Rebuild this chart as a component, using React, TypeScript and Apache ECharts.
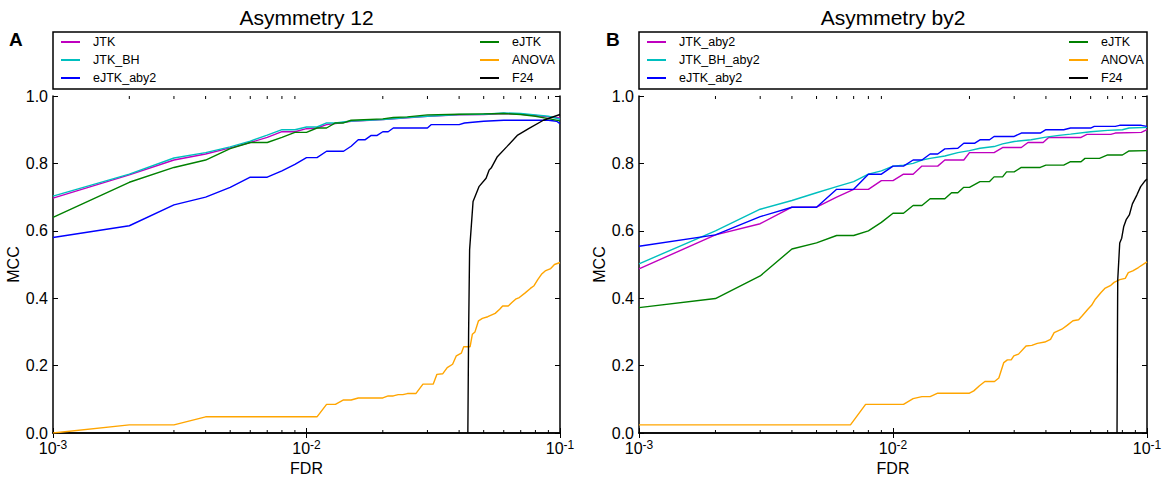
import React, { useEffect, useRef } from "react";
import * as echarts from "echarts";

const FONT = "'Liberation Sans', Arial, Helvetica, sans-serif";

// ---- Panel A: Asymmetry 12 ----
const A_JTK: number[][] = [[0.001,0.697],[0.002,0.766],[0.003,0.81],[0.004,0.828],[0.005,0.846],[0.006,0.862],[0.007,0.877],[0.008,0.894],[0.009,0.894],[0.01,0.903],[0.011,0.905],[0.012,0.915],[0.013,0.918],[0.015,0.925],[0.02,0.93],[0.022,0.932],[0.025,0.935],[0.03,0.94],[0.04,0.944],[0.05,0.945],[0.06,0.948],[0.07,0.946],[0.08,0.942],[0.09,0.938],[0.1,0.935]];
const A_JTK_BH: number[][] = [[0.001,0.703],[0.002,0.768],[0.003,0.816],[0.004,0.832],[0.005,0.849],[0.006,0.866],[0.007,0.884],[0.008,0.9],[0.009,0.9],[0.01,0.908],[0.011,0.908],[0.012,0.92],[0.013,0.92],[0.015,0.926],[0.02,0.93],[0.025,0.936],[0.03,0.94],[0.04,0.945],[0.05,0.946],[0.06,0.95],[0.07,0.948],[0.08,0.944],[0.09,0.94],[0.1,0.931]];
const A_eJTK: number[][] = [[0.001,0.64],[0.002,0.744],[0.003,0.788],[0.004,0.81],[0.005,0.844],[0.006,0.862],[0.007,0.862],[0.008,0.877],[0.009,0.892],[0.01,0.892],[0.011,0.905],[0.012,0.905],[0.013,0.92],[0.014,0.92],[0.015,0.928],[0.02,0.932],[0.022,0.936],[0.025,0.938],[0.03,0.944],[0.04,0.946],[0.05,0.947],[0.06,0.948],[0.07,0.945],[0.08,0.94],[0.09,0.933],[0.1,0.926]];
const A_eJTK_aby2: number[][] = [[0.001,0.58],[0.002,0.615],[0.003,0.677],[0.004,0.7],[0.005,0.729],[0.006,0.759],[0.007,0.759],[0.008,0.778],[0.009,0.797],[0.01,0.817],[0.011,0.817],[0.012,0.836],[0.013,0.836],[0.014,0.836],[0.015,0.851],[0.016,0.87],[0.017,0.87],[0.018,0.883],[0.019,0.883],[0.02,0.894],[0.021,0.894],[0.022,0.905],[0.03,0.905],[0.031,0.915],[0.04,0.915],[0.042,0.92],[0.05,0.925],[0.06,0.928],[0.09,0.928],[0.097,0.925],[0.1,0.918]];
const A_ANOVA: number[][] = [[0.001,0],[0.002,0.024],[0.003,0.024],[0.004,0.048],[0.011,0.048],[0.012,0.085],[0.013,0.085],[0.014,0.098],[0.015,0.098],[0.016,0.104],[0.02,0.104],[0.021,0.11],[0.022,0.11],[0.023,0.114],[0.024,0.114],[0.025,0.117],[0.027,0.117],[0.0288,0.145],[0.0316,0.145],[0.0327,0.174],[0.0345,0.176],[0.0359,0.194],[0.0377,0.204],[0.039,0.229],[0.0408,0.237],[0.0417,0.256],[0.0442,0.256],[0.0451,0.293],[0.0462,0.3],[0.0477,0.333],[0.0494,0.34],[0.0519,0.345],[0.0555,0.355],[0.0578,0.367],[0.0594,0.377],[0.0625,0.377],[0.0646,0.387],[0.0668,0.397],[0.0691,0.402],[0.0727,0.415],[0.0764,0.429],[0.079,0.437],[0.0817,0.455],[0.0845,0.471],[0.0874,0.481],[0.0919,0.488],[0.0951,0.5],[0.1,0.506]];
const A_F24: number[][] = [[0.0433,0],[0.0436,0.3],[0.044,0.544],[0.0454,0.687],[0.0479,0.731],[0.0511,0.756],[0.0525,0.78],[0.0537,0.788],[0.0566,0.82],[0.0616,0.849],[0.0681,0.884],[0.0752,0.903],[0.086,0.928],[0.1,0.945]];

// ---- Panel B: Asymmetry by2 ----
const B_JTK_aby2: number[][] = [[0.001,0.487],[0.002,0.588],[0.003,0.621],[0.004,0.67],[0.005,0.67],[0.006,0.7],[0.007,0.723],[0.008,0.723],[0.009,0.749],[0.01,0.749],[0.011,0.768],[0.012,0.768],[0.013,0.792],[0.015,0.792],[0.016,0.81],[0.019,0.81],[0.02,0.832],[0.025,0.832],[0.027,0.847],[0.032,0.847],[0.034,0.862],[0.039,0.862],[0.041,0.877],[0.055,0.877],[0.058,0.886],[0.072,0.886],[0.075,0.89],[0.095,0.892],[0.1,0.9]];
const B_JTK_BH_aby2: number[][] = [[0.001,0.502],[0.002,0.6],[0.003,0.664],[0.004,0.69],[0.005,0.713],[0.006,0.731],[0.007,0.746],[0.008,0.768],[0.009,0.778],[0.01,0.792],[0.011,0.795],[0.012,0.8],[0.013,0.81],[0.014,0.815],[0.016,0.822],[0.018,0.832],[0.02,0.838],[0.022,0.845],[0.025,0.85],[0.027,0.858],[0.03,0.865],[0.035,0.87],[0.04,0.878],[0.045,0.883],[0.05,0.887],[0.06,0.894],[0.07,0.898],[0.08,0.9],[0.085,0.905],[0.1,0.907]];
const B_eJTK_aby2: number[][] = [[0.001,0.554],[0.002,0.588],[0.003,0.642],[0.004,0.67],[0.005,0.67],[0.006,0.723],[0.007,0.723],[0.008,0.768],[0.009,0.768],[0.01,0.792],[0.011,0.792],[0.012,0.81],[0.013,0.81],[0.014,0.828],[0.015,0.828],[0.016,0.843],[0.018,0.845],[0.019,0.86],[0.021,0.86],[0.022,0.87],[0.024,0.87],[0.025,0.88],[0.03,0.88],[0.032,0.89],[0.038,0.89],[0.04,0.9],[0.047,0.9],[0.05,0.905],[0.06,0.905],[0.062,0.91],[0.075,0.91],[0.078,0.913],[0.095,0.913],[0.1,0.91]];
const B_eJTK: number[][] = [[0.001,0.372],[0.002,0.399],[0.003,0.466],[0.004,0.546],[0.005,0.564],[0.006,0.586],[0.007,0.586],[0.008,0.6],[0.009,0.625],[0.01,0.652],[0.011,0.652],[0.012,0.675],[0.013,0.675],[0.014,0.695],[0.016,0.695],[0.017,0.713],[0.018,0.713],[0.019,0.729],[0.02,0.729],[0.022,0.746],[0.024,0.746],[0.025,0.76],[0.027,0.76],[0.028,0.775],[0.03,0.775],[0.032,0.788],[0.038,0.788],[0.04,0.795],[0.047,0.795],[0.05,0.805],[0.055,0.805],[0.057,0.815],[0.065,0.815],[0.07,0.825],[0.08,0.825],[0.085,0.837],[0.1,0.838]];
const B_ANOVA: number[][] = [[0.001,0.024],[0.0068,0.024],[0.0078,0.085],[0.011,0.085],[0.012,0.102],[0.013,0.108],[0.014,0.108],[0.015,0.118],[0.02,0.118],[0.0208,0.125],[0.0219,0.14],[0.023,0.153],[0.0251,0.153],[0.0261,0.163],[0.0273,0.209],[0.0282,0.217],[0.0292,0.217],[0.0299,0.229],[0.0312,0.234],[0.0334,0.258],[0.0352,0.26],[0.037,0.266],[0.0396,0.27],[0.0417,0.278],[0.0431,0.298],[0.0462,0.308],[0.0486,0.32],[0.0511,0.333],[0.0538,0.336],[0.0556,0.348],[0.0585,0.367],[0.0605,0.379],[0.0626,0.397],[0.0659,0.417],[0.0682,0.429],[0.0717,0.437],[0.0742,0.447],[0.0781,0.455],[0.0821,0.459],[0.0844,0.476],[0.0879,0.481],[0.0925,0.491],[0.1,0.508]];
const B_F24: number[][] = [[0.0762,0],[0.0765,0.3],[0.0767,0.455],[0.0781,0.564],[0.0795,0.578],[0.081,0.613],[0.0828,0.633],[0.0852,0.647],[0.0876,0.68],[0.0912,0.706],[0.0944,0.731],[0.0977,0.746],[0.1,0.754]];

const MINOR_TICKS = [0.002,0.003,0.004,0.005,0.006,0.007,0.008,0.009,0.02,0.03,0.04,0.05,0.06,0.07,0.08,0.09];
const TITLES = ["Asymmetry 12", "Asymmetry by2"];
const PANEL_LABELS = ["A", "B"];
const LEGEND_A_LEFT = ["JTK", "JTK_BH", "eJTK_aby2"];
const LEGEND_B_LEFT = ["JTK_aby2", "JTK_BH_aby2", "eJTK_aby2"];
const LEGEND_RIGHT = ["eJTK", "ANOVA", "F24"];

const C = {
  magenta: "#bf00bf",
  cyan: "#00bfbf",
  blue: "#0000ff",
  green: "#008000",
  orange: "#ffa500",
  black: "#000000",
};

const GRIDS = [
  { left: 53, top: 96, width: 507, height: 337 },
  { left: 639, top: 96, width: 508, height: 337 },
];

function buildOption() {
  const axisLine = { show: true, lineStyle: { color: "#000", width: 1.5 } };
  const xAxes: any[] = [];
  const yAxes: any[] = [];
  GRIDS.forEach((_, g) => {
    const baseX = {
      type: "log",
      logBase: 10,
      min: 0.001,
      max: 0.1,
      gridIndex: g,
      splitLine: { show: false },
      axisLine,
      axisTick: { show: true, inside: true, length: 5, lineStyle: { color: "#000", width: 1 } },
    };
    xAxes.push({
      ...baseX,
      position: "bottom",
      name: "FDR",
      nameLocation: "middle",
      nameGap: 22,
      nameTextStyle: { fontSize: 16, color: "#000", fontFamily: FONT },
      axisLabel: {
        margin: 6,
        showMinLabel: true,
        showMaxLabel: true,
        formatter: (v: number) => `{b|10}{s|${Math.round(Math.log10(v))}}`,
        rich: {
          b: { fontSize: 16, fontFamily: FONT, color: "#000", lineHeight: 18 },
          s: { fontSize: 12, fontFamily: FONT, color: "#000", verticalAlign: "top", lineHeight: 12 },
        },
      },
    });
    xAxes.push({ ...baseX, position: "top", axisLabel: { show: false } });
    const baseY = {
      type: "value",
      min: 0,
      max: 1,
      interval: 0.2,
      gridIndex: g,
      splitLine: { show: false },
      axisLine,
      axisTick: { show: true, inside: true, length: 5, lineStyle: { color: "#000", width: 1 } },
    };
    yAxes.push({
      ...baseY,
      position: "left",
      name: "MCC",
      nameLocation: "middle",
      nameGap: 27,
      nameRotate: 90,
      nameTextStyle: { fontSize: 16, color: "#000", fontFamily: FONT },
      axisLabel: {
        margin: 5,
        fontSize: 16,
        fontFamily: FONT,
        color: "#000",
        formatter: (v: number) => v.toFixed(1),
      },
    });
    yAxes.push({ ...baseY, position: "right", axisLabel: { show: false } });
  });

  const line = (name: string, data: number[][], color: string, g: number) => ({
    type: "line",
    name,
    data,
    xAxisIndex: g * 2,
    yAxisIndex: g * 2,
    showSymbol: false,
    symbol: "none",
    color,
    lineStyle: { color, width: 1.4 },
    itemStyle: { color },
    emphasis: { disabled: true },
    z: 3,
  });

  const minorSeries = (g: number) => ({
    type: "custom",
    xAxisIndex: g * 2,
    yAxisIndex: g * 2,
    silent: true,
    z: 6,
    data: MINOR_TICKS.map((v) => [v, 0]),
    encode: { x: 0, y: 1 },
    renderItem: (_params: any, api: any) => {
      const x = api.value(0);
      const pb = api.coord([x, 0]);
      const pt = api.coord([x, 1]);
      const style = { stroke: "#000", lineWidth: 1 };
      return {
        type: "group",
        children: [
          { type: "line", shape: { x1: pb[0], y1: pb[1], x2: pb[0], y2: pb[1] - 3 }, style },
          { type: "line", shape: { x1: pt[0], y1: pt[1], x2: pt[0], y2: pt[1] + 3 }, style },
        ],
      };
    },
  });

  const series: any[] = [
    line("JTK", A_JTK, C.magenta, 0),
    line("JTK_BH", A_JTK_BH, C.cyan, 0),
    line("eJTK_aby2", A_eJTK_aby2, C.blue, 0),
    line("eJTK", A_eJTK, C.green, 0),
    line("ANOVA", A_ANOVA, C.orange, 0),
    line("F24", A_F24, C.black, 0),
    line("JTK_aby2", B_JTK_aby2, C.magenta, 1),
    line("JTK_BH_aby2", B_JTK_BH_aby2, C.cyan, 1),
    line("eJTK_aby2", B_eJTK_aby2, C.blue, 1),
    line("eJTK", B_eJTK, C.green, 1),
    line("ANOVA", B_ANOVA, C.orange, 1),
    line("F24", B_F24, C.black, 1),
    minorSeries(0),
    minorSeries(1),
  ];

  const legendCommon = {
    orient: "vertical",
    top: 33,
    padding: 0,
    itemGap: 0,
    itemWidth: 19,
    itemHeight: 2,
    icon: "rect",
    selectedMode: false,
    textStyle: { fontSize: 12.5, fontFamily: FONT, color: "#000", lineHeight: 18, padding: [0, 0, 0, 8] },
  };

  return {
    animation: false,
    backgroundColor: "#fff",
    textStyle: { fontFamily: FONT },
    title: TITLES.map((t, i) => ({
      text: t,
      left: GRIDS[i].left + GRIDS[i].width / 2,
      top: 7,
      textAlign: "center",
      padding: 0,
      textStyle: { fontSize: 21, fontWeight: "normal", fontFamily: FONT, color: "#000" },
    })),
    grid: GRIDS,
    xAxis: xAxes,
    yAxis: yAxes,
    legend: [
      { ...legendCommon, left: 61, data: LEGEND_A_LEFT },
      { ...legendCommon, left: 480, data: LEGEND_RIGHT },
      { ...legendCommon, left: 647, data: LEGEND_B_LEFT },
      { ...legendCommon, left: 1069, data: LEGEND_RIGHT },
    ],
    graphic: [
      ...GRIDS.map((g) => ({
        type: "rect",
        silent: true,
        shape: { x: g.left, y: 32, width: g.width, height: 57 },
        style: { fill: "none", stroke: "#000", lineWidth: 1.5 },
      })),
      ...PANEL_LABELS.map((l, i) => ({
        type: "text",
        silent: true,
        x: i === 0 ? 9 : 606,
        y: 39,
        style: {
          text: l,
          fontSize: 19,
          fontWeight: "bold",
          fontFamily: FONT,
          fill: "#000",
          verticalAlign: "middle",
        },
      })),
    ],
    series,
  };
}

export default function App() {
  const ref = useRef<HTMLDivElement>(null);
  useEffect(() => {
    if (!ref.current) return;
    const chart = echarts.init(ref.current, undefined, { renderer: "svg" });
    chart.setOption(buildOption() as any);
    return () => chart.dispose();
  }, []);
  return (
    <div
      ref={ref}
      style={{ position: "absolute", left: 0, top: 0, width: 1165, height: 483, background: "#fff" }}
    />
  );
}
